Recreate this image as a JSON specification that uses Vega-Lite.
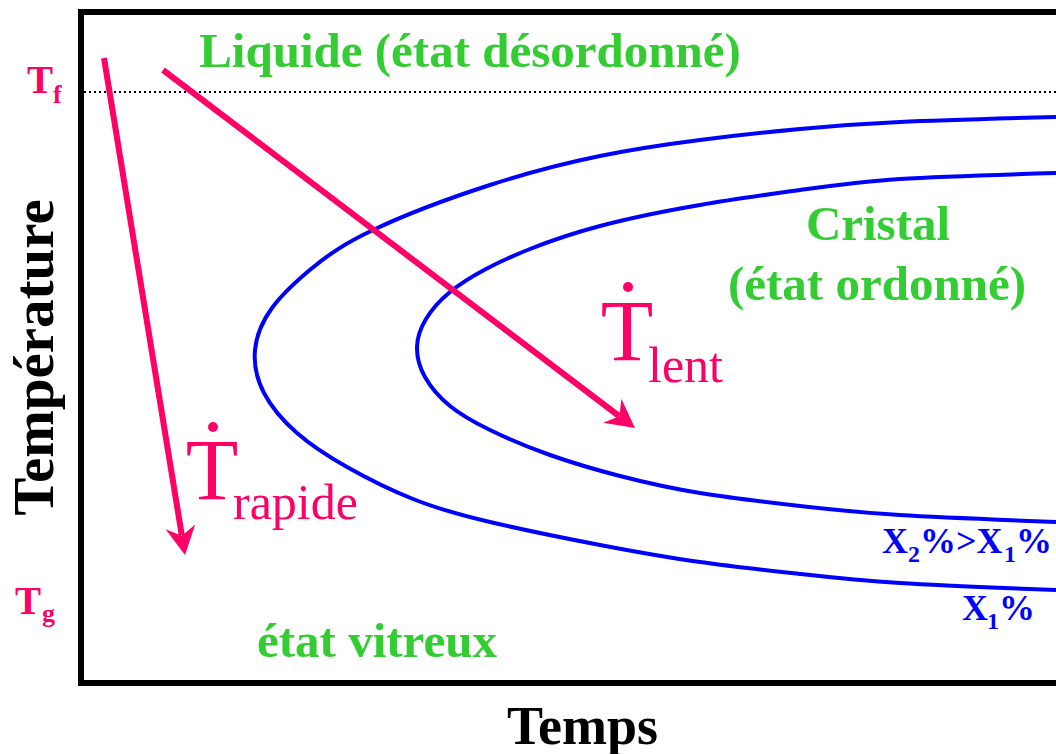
{
  "$schema": "https://vega.github.io/schema/vega-lite/v6.json",
  "autosize": {"type": "none"},
  "padding": {"left": 81, "top": 12, "right": 0, "bottom": 71},
  "width": 975,
  "height": 671,
  "background": "white",
  "config": {"view": {"stroke": null}},
  "encoding": {
    "x": {"field": "x", "type": "quantitative", "scale": {"domain": [0, 975], "nice": false, "zero": false},
      "axis": {"title": "Temps", "domain": false, "ticks": false, "labels": false, "grid": false,
        "titleFont": "Liberation Serif", "titleFontSize": 54, "titleFontWeight": "bold", "titleColor": "black",
        "titleX": 501, "titleY": 60, "titleBaseline": "alphabetic", "titleAlign": "center"}},
    "y": {"field": "y", "type": "quantitative", "scale": {"domain": [0, 671], "nice": false, "zero": false},
      "axis": {"title": "Température", "domain": false, "ticks": false, "labels": false, "grid": false,
        "titleFont": "Liberation Serif", "titleFontSize": 57, "titleFontWeight": "bold", "titleColor": "black",
        "titleAngle": -90, "titleX": -29, "titleY": 345, "titleBaseline": "alphabetic", "titleAlign": "center"}}
  },
  "layer": [
    {
      "data": {"values": [
        {"x": 0, "y": 0, "x2": 0, "y2": 671},
        {"x": 0, "y": 671, "x2": 975, "y2": 671},
        {"x": 0, "y": 0, "x2": 975, "y2": 0}
      ]},
      "mark": {"type": "rule", "color": "black", "strokeWidth": 6, "strokeCap": "square"},
      "encoding": {"x2": {"field": "x2"}, "y2": {"field": "y2"}}
    },
    {
      "data": {"values": [{"x": 3, "y": 591, "x2": 975, "y2": 591}]},
      "mark": {"type": "rule", "color": "black", "strokeWidth": 2, "strokeDash": [2, 3]},
      "encoding": {"x2": {"field": "x2"}, "y2": {"field": "y2"}}
    },
    {
      "data": {"values": [
        {"curve": "X1", "o": 1, "x": 975, "y": 566}, {"curve": "X1", "o": 2, "x": 819, "y": 561},
        {"curve": "X1", "o": 3, "x": 719, "y": 554}, {"curve": "X1", "o": 4, "x": 619, "y": 543},
        {"curve": "X1", "o": 5, "x": 519, "y": 527}, {"curve": "X1", "o": 6, "x": 409, "y": 498},
        {"curve": "X1", "o": 7, "x": 292, "y": 453}, {"curve": "X1", "o": 8, "x": 230, "y": 414},
        {"curve": "X1", "o": 9, "x": 191, "y": 375}, {"curve": "X1", "o": 10, "x": 174, "y": 333},
        {"curve": "X1", "o": 11, "x": 183, "y": 290}, {"curve": "X1", "o": 12, "x": 216, "y": 250},
        {"curve": "X1", "o": 13, "x": 266, "y": 216}, {"curve": "X1", "o": 14, "x": 332, "y": 184},
        {"curve": "X1", "o": 15, "x": 409, "y": 161}, {"curve": "X1", "o": 16, "x": 519, "y": 138},
        {"curve": "X1", "o": 17, "x": 619, "y": 121}, {"curve": "X1", "o": 18, "x": 719, "y": 109},
        {"curve": "X1", "o": 19, "x": 819, "y": 100}, {"curve": "X1", "o": 20, "x": 975, "y": 93},
        {"curve": "X2", "o": 1, "x": 975, "y": 510}, {"curve": "X2", "o": 2, "x": 819, "y": 504},
        {"curve": "X2", "o": 3, "x": 719, "y": 493}, {"curve": "X2", "o": 4, "x": 619, "y": 478},
        {"curve": "X2", "o": 5, "x": 519, "y": 457}, {"curve": "X2", "o": 6, "x": 449, "y": 434},
        {"curve": "X2", "o": 7, "x": 405, "y": 414}, {"curve": "X2", "o": 8, "x": 369, "y": 391},
        {"curve": "X2", "o": 9, "x": 345, "y": 364}, {"curve": "X2", "o": 10, "x": 336, "y": 336},
        {"curve": "X2", "o": 11, "x": 344, "y": 306}, {"curve": "X2", "o": 12, "x": 369, "y": 277},
        {"curve": "X2", "o": 13, "x": 409, "y": 253}, {"curve": "X2", "o": 14, "x": 469, "y": 228},
        {"curve": "X2", "o": 15, "x": 539, "y": 207}, {"curve": "X2", "o": 16, "x": 619, "y": 190},
        {"curve": "X2", "o": 17, "x": 719, "y": 177}, {"curve": "X2", "o": 18, "x": 819, "y": 168},
        {"curve": "X2", "o": 19, "x": 975, "y": 161}
      ]},
      "mark": {"type": "line", "color": "#0000ff", "strokeWidth": 4, "interpolate": "natural"},
      "encoding": {"detail": {"field": "curve"}, "order": {"field": "o", "type": "quantitative"}}
    },
    {
      "data": {"values": [
        {"arrow": "rapide", "x": 23, "y": 625, "x2": 100.8, "y2": 147.7},
        {"arrow": "lent", "x": 82, "y": 613, "x2": 538, "y2": 267}
      ]},
      "mark": {"type": "rule", "color": "#ff0066", "strokeWidth": 6},
      "encoding": {"x2": {"field": "x2"}, "y2": {"field": "y2"}}
    },
    {
      "data": {"values": [
        {"arrow": "rapide", "x": 104, "y": 128, "angle": 170.7},
        {"arrow": "lent", "x": 554, "y": 255, "angle": 127.2}
      ]},
      "mark": {"type": "point", "shape": "M0,0L1,1.9L0,1.3L-1,1.9Z", "size": 900, "filled": true, "color": "#ff0066", "opacity": 1},
      "encoding": {"angle": {"field": "angle", "type": "quantitative", "scale": null}}
    },
    {
      "data": {"values": [{"x": 547, "y": 396}, {"x": 132, "y": 256}]},
      "mark": {"type": "point", "shape": "circle", "size": 100, "filled": true, "color": "#ff0066", "opacity": 1}
    },
    {
      "data": {"values": [
        {"label": "Liquide (état désordonné)", "x": 389, "y": 616},
        {"label": "Cristal", "x": 797, "y": 443},
        {"label": "(état ordonné)", "x": 796, "y": 383},
        {"label": "état vitreux", "x": 296, "y": 26}
      ]},
      "mark": {"type": "text", "font": "Liberation Serif", "fontSize": 49, "fontWeight": "bold", "color": "#33cc33", "align": "center", "baseline": "alphabetic"},
      "encoding": {"text": {"field": "label"}}
    },
    {
      "data": {"values": [{"label": "T", "x": 546, "y": 323}, {"label": "T", "x": 131, "y": 184}]},
      "mark": {"type": "text", "font": "Liberation Serif", "fontSize": 86, "color": "#ff0066", "align": "center", "baseline": "alphabetic"},
      "encoding": {"text": {"field": "label"}}
    },
    {
      "data": {"values": [{"label": "lent", "x": 567, "y": 301}, {"label": "rapide", "x": 152, "y": 164}]},
      "mark": {"type": "text", "font": "Liberation Serif", "fontSize": 50, "color": "#ff0066", "align": "left", "baseline": "alphabetic"},
      "encoding": {"text": {"field": "label"}}
    },
    {
      "data": {"values": [{"label": "T", "x": -54, "y": 590}, {"label": "T", "x": -66, "y": 69}]},
      "mark": {"type": "text", "font": "Liberation Serif", "fontSize": 39, "fontWeight": "bold", "color": "#ff0066", "align": "left", "baseline": "alphabetic"},
      "encoding": {"text": {"field": "label"}}
    },
    {
      "data": {"values": [{"label": "f", "x": -28, "y": 580}, {"label": "g", "x": -39, "y": 61}]},
      "mark": {"type": "text", "font": "Liberation Serif", "fontSize": 26, "fontWeight": "bold", "color": "#ff0066", "align": "left", "baseline": "alphabetic"},
      "encoding": {"text": {"field": "label"}}
    },
    {
      "data": {"values": [
        {"label": "X", "x": 801, "y": 130}, {"label": "%>X", "x": 839, "y": 130}, {"label": "%", "x": 935, "y": 130},
        {"label": "X", "x": 881, "y": 63}, {"label": "%", "x": 918, "y": 63}
      ]},
      "mark": {"type": "text", "font": "Liberation Serif", "fontSize": 36, "fontWeight": "bold", "color": "#0000ff", "align": "left", "baseline": "alphabetic"},
      "encoding": {"text": {"field": "label"}}
    },
    {
      "data": {"values": [
        {"label": "2", "x": 827, "y": 121}, {"label": "1", "x": 923, "y": 121}, {"label": "1", "x": 906, "y": 54}
      ]},
      "mark": {"type": "text", "font": "Liberation Serif", "fontSize": 24, "fontWeight": "bold", "color": "#0000ff", "align": "left", "baseline": "alphabetic"},
      "encoding": {"text": {"field": "label"}}
    }
  ]
}
